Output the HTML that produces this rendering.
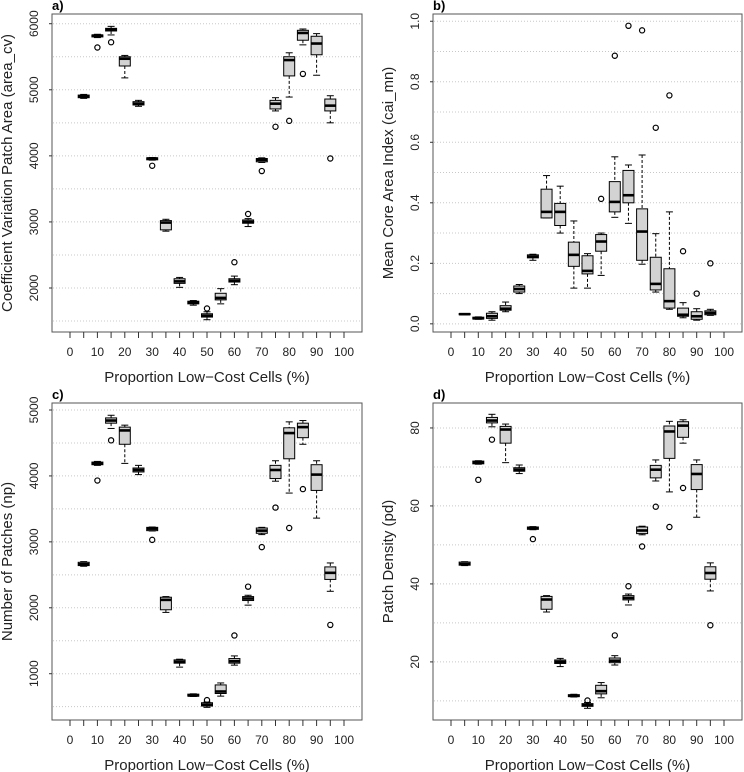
<!DOCTYPE html>
<html><head><meta charset="utf-8"><style>
body{margin:0;background:#fff;}
svg{display:block;font-family:"Liberation Sans",Arial,sans-serif;}
</style></head><body>
<svg id="fig" width="744" height="772" viewBox="0 0 744 772"></svg>
<script>
const categories=[5,10,15,20,25,30,35,40,45,50,55,60,65,70,75,80,85,90,95];
const xTickLabels=[0,10,20,30,40,50,60,70,80,90,100];
// Panel a: area_cv
const aMed=[4900,5820,5910,5470,4790,3960,2990,2100,1780,1580,1850,2110,3000,3940,4790,5450,5860,5700,4760];
const aQ1=[4880,5800,5890,5360,4770,3940,2880,2070,1760,1560,1820,2090,2980,3910,4710,5210,5750,5530,4680];
const aQ3=[4920,5830,5930,5500,4820,3970,3020,2140,1800,1610,1920,2140,3030,3960,4840,5500,5900,5810,4860];
const aLo=[4870,5790,5830,5180,4750,3935,2860,2010,1740,1520,1760,2050,2930,3900,4680,4890,5680,5220,4500];
const aHi=[4930,5840,5960,5520,4840,3975,3040,2160,1810,1640,1990,2180,3050,3970,4880,5560,5920,5850,4910];
const aOut=[[],[5640],[5720],[],[],[3850],[],[],[],[1690],[],[2390],[3120],[3770],[4440],[4530],[5240],[],[3960]];
// Panel b: cai_mn
const bMed=[0.032,0.018,0.025,0.05,0.115,0.222,0.37,0.37,0.228,0.175,0.272,0.403,0.425,0.305,0.132,0.075,0.03,0.025,0.036];
const bQ1=[0.03,0.016,0.018,0.045,0.105,0.218,0.35,0.325,0.19,0.165,0.24,0.37,0.4,0.21,0.112,0.052,0.025,0.015,0.03];
const bQ3=[0.034,0.022,0.035,0.06,0.125,0.228,0.445,0.398,0.27,0.225,0.295,0.47,0.507,0.38,0.22,0.182,0.052,0.04,0.043];
const bLo=[0.03,0.015,0.012,0.04,0.1,0.21,0.35,0.3,0.118,0.118,0.16,0.352,0.332,0.197,0.105,0.048,0.02,0.012,0.028];
const bHi=[0.034,0.023,0.04,0.072,0.13,0.23,0.49,0.455,0.34,0.232,0.3,0.552,0.525,0.558,0.298,0.37,0.07,0.05,0.048];
const bOut=[[],[],[],[],[],[],[],[],[],[],[0.413],[0.886],[0.985],[0.97],[0.648],[0.755],[0.24],[0.1],[0.2]];
// Panel c: np
const cMed=[2660,4190,4840,4690,4090,3200,2120,1180,670,530,730,1190,2140,3170,4090,4650,4740,4020,2530];
const cQ1=[2640,4170,4800,4480,4060,3170,1970,1160,660,510,700,1160,2110,3130,3960,4260,4580,3780,2430];
const cQ3=[2690,4210,4880,4740,4120,3220,2160,1210,690,560,830,1230,2170,3210,4160,4730,4800,4170,2620];
const cLo=[2630,4160,4720,4190,4020,3165,1930,1100,655,490,660,1130,2040,3110,3920,3740,4480,3360,2250];
const cHi=[2700,4220,4920,4770,4160,3225,2170,1220,695,570,860,1270,2190,3220,4230,4820,4840,4230,2680];
const cOut=[[],[3930],[4540],[],[],[3030],[],[],[],[600],[],[1580],[2320],[2920],[3520],[3210],[3800],[],[1740]];
// Panel d: pd
const dMed=[45.1,71.1,81.9,79.6,69.3,54.3,36,20,11.3,8.9,12.5,20.3,36.4,53.7,69.3,79.1,80.6,68.2,42.8];
const dQ1=[44.8,70.8,81.3,76.1,68.9,54,33.5,19.6,11.1,8.6,11.8,19.8,35.9,52.9,67.2,72.2,77.6,64.2,41.2];
const dQ3=[45.6,71.5,82.7,80.4,69.8,54.6,36.8,20.5,11.6,9.3,14,21,37,54.6,70.4,80.5,81.6,70.6,44.4];
const dLo=[44.7,70.7,80.3,71.1,68.3,53.9,32.8,18.8,11,8.1,10.8,19.2,34.6,52.6,66.4,63.6,76.1,57.1,38.2];
const dHi=[45.7,71.6,83.5,81,70.5,54.7,37,20.9,11.7,9.6,14.7,21.6,37.4,54.8,71.8,81.7,82.1,71.8,45.4];
const dOut=[[],[66.7],[77],[],[],[51.5],[],[],[],[10.1],[],[26.8],[39.4],[49.6],[59.8],[54.6],[64.6],[],[29.4]];
const aYTicks=[2000,3000,4000,5000,6000];
const bYTicks=[0.0,0.2,0.4,0.6,0.8,1.0];
const cYTicks=[1000,2000,3000,4000,5000];
const dYTicks=[20,40,60,80];

const NS='http://www.w3.org/2000/svg';
const svg=document.getElementById('fig');
function mk(tag,attrs,parent){const e=document.createElementNS(NS,tag);for(const k in attrs)e.setAttribute(k,attrs[k]);(parent||svg).appendChild(e);return e;}

const panels=[
 {id:'a',L:52,T:14,R:362,B:332,top:6147,bot:1334,grid:[1500,2000,2500,3000,3500,4000,4500,5000,5500,6000],ticks:aYTicks,fmt:v=>String(v),title:'Coefficient Variation Patch Area (area_cv)',med:aMed,q1:aQ1,q3:aQ3,lo:aLo,hi:aHi,out:aOut},
 {id:'b',L:433,T:14,R:742,B:332,top:1.024,bot:-0.027,grid:[0,0.1,0.2,0.3,0.4,0.5,0.6,0.7,0.8,0.9,1.0],ticks:bYTicks,fmt:v=>v.toFixed(1),title:'Mean Core Area Index (cai_mn)',med:bMed,q1:bQ1,q3:bQ3,lo:bLo,hi:bHi,out:bOut},
 {id:'c',L:52,T:403,R:362,B:720,top:5106,bot:298,grid:[500,1000,1500,2000,2500,3000,3500,4000,4500,5000],ticks:cYTicks,fmt:v=>String(v),title:'Number of Patches (np)',med:cMed,q1:cQ1,q3:cQ3,lo:cLo,hi:cHi,out:cOut},
 {id:'d',L:433,T:403,R:742,B:720,top:86.4,bot:5.1,grid:[10,20,30,40,50,60,70,80],ticks:dYTicks,fmt:v=>String(v),title:'Patch Density (pd)',med:dMed,q1:dQ1,q3:dQ3,lo:dLo,hi:dHi,out:dOut}
];

panels.forEach(p=>{
 const g=mk('g',{});
 
 
 const x=v=>p.L+18+v/100*(p.R-p.L-36);
 const y=v=>p.T+(p.top-v)/(p.top-p.bot)*(p.B-p.T);
 // grid
 p.grid.forEach(v=>{
  const l=mk('line',{x1:p.L+1,x2:p.R-1,y1:y(v),y2:y(v),stroke:'#c8c8c8','stroke-width':1,'stroke-dasharray':'1,2'},g);
  
  
 });
 // boxes
 categories.forEach((c,i)=>{
  const cx=x(c),hw=5.5,cap=3.5;
  const bg=mk('g',{},g);
  
  
  mk('line',{x1:cx,x2:cx,y1:y(p.hi[i]),y2:y(p.q3[i]),stroke:'#000','stroke-width':1,'stroke-dasharray':'3,2'},bg);
  mk('line',{x1:cx,x2:cx,y1:y(p.q1[i]),y2:y(p.lo[i]),stroke:'#000','stroke-width':1,'stroke-dasharray':'3,2'},bg);
  mk('line',{x1:cx-cap,x2:cx+cap,y1:y(p.hi[i]),y2:y(p.hi[i]),stroke:'#000','stroke-width':1},bg);
  mk('line',{x1:cx-cap,x2:cx+cap,y1:y(p.lo[i]),y2:y(p.lo[i]),stroke:'#000','stroke-width':1},bg);
  const yt=y(p.q3[i]),yb=y(p.q1[i]);
  mk('rect',{x:cx-hw,y:yt,width:2*hw,height:Math.max(yb-yt,1),fill:'#d3d3d3',stroke:'#000','stroke-width':1},bg);
  mk('line',{x1:cx-hw,x2:cx+hw,y1:y(p.med[i]),y2:y(p.med[i]),stroke:'#000','stroke-width':2.6},bg);
  p.out[i].forEach(o=>{
   const ci=mk('circle',{cx:cx,cy:y(o),r:2.6,fill:'none',stroke:'#000','stroke-width':1.2},bg);
   
   
  });
 });
 // frame
 const fr=mk('rect',{x:p.L,y:p.T,width:p.R-p.L,height:p.B-p.T,fill:'none',stroke:'#555','stroke-width':1},g);
 
 
 // x ticks
 for(let v=0;v<=100;v+=5){mk('line',{x1:x(v),x2:x(v),y1:p.B,y2:p.B+6,stroke:'#333','stroke-width':1},g);}
 xTickLabels.forEach(v=>{
  const t=mk('text',{x:x(v),y:p.B+24,'font-size':12,'text-anchor':'middle',fill:'#222'},g);
  t.textContent=v;
  
  
 });
 const xt=mk('text',{x:(p.L+p.R)/2,y:p.B+50,'font-size':15,'text-anchor':'middle',fill:'#222'},g);
 xt.textContent='Proportion Low\u2212Cost Cells (%)';
 
 
 // y ticks
 p.ticks.forEach(v=>{
  mk('line',{x1:p.L-3,x2:p.L,y1:y(v),y2:y(v),stroke:'#333','stroke-width':1},g);
  const t=mk('text',{x:0,y:0,'font-size':12,'text-anchor':'middle',fill:'#222',transform:`translate(${p.L-14},${y(v)}) rotate(-90)`},g);
  t.textContent=p.fmt(v);
  
  
 });
 const yt2=mk('text',{x:0,y:0,'font-size':15,'text-anchor':'middle',fill:'#222',transform:`translate(${p.L-40},${(p.T+p.B)/2}) rotate(-90)`},g);
 yt2.textContent=p.title;
 
 
 const pl=mk('text',{x:p.L,y:p.T-4,'font-size':13,'font-weight':'bold',fill:'#000'},g);
 pl.textContent=p.id+')';
 
 
});
</script>
</body></html>
